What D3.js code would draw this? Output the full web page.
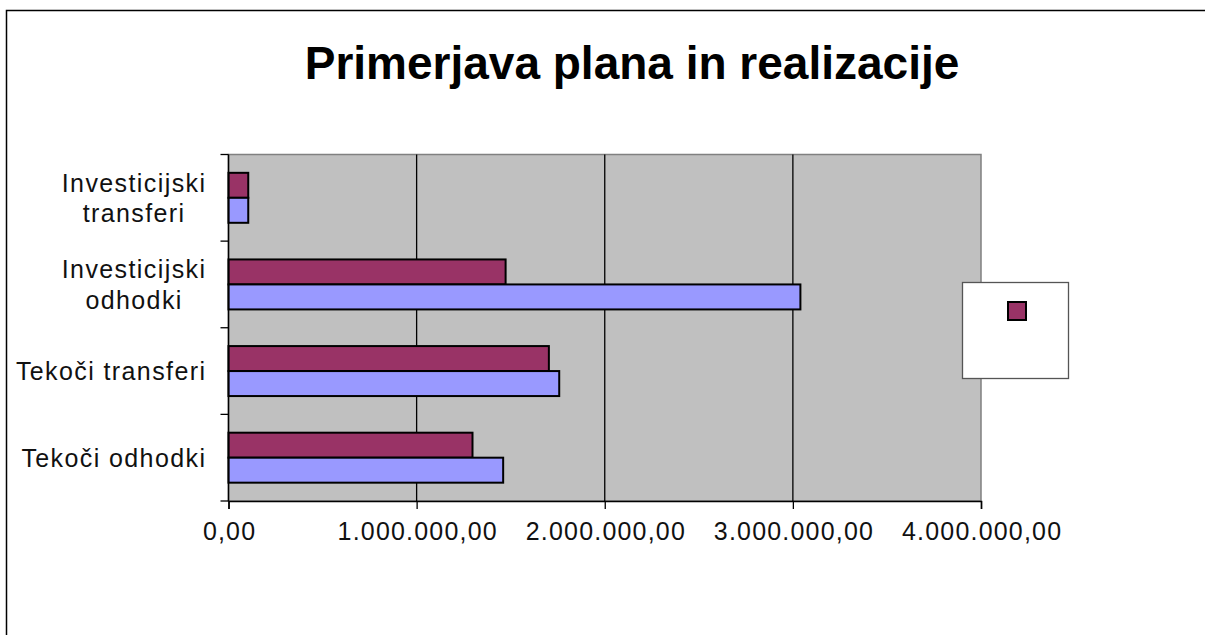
<!DOCTYPE html>
<html>
<head>
<meta charset="utf-8">
<script src="https://cdn.jsdelivr.net/npm/d3@7"></script>
<style>
  body { margin: 0; background: #fff; }
  svg { display: block; font-family: "Liberation Sans", Arial, sans-serif; }
</style>
</head>
<body>
<script>
// chart data
var categories = ['Investicijski transferi', 'Investicijski odhodki', 'Tekoči transferi', 'Tekoči odhodki'];
var categoryLines = [['Investicijski', 'transferi'], ['Investicijski', 'odhodki'], ['Tekoči transferi'], ['Tekoči odhodki']];
var seriesNames = ['Realizacija', 'Plan'];
var realizacija = [105000, 1473000, 1703000, 1297000];
var plan = [105000, 3040000, 1758000, 1460000];
var xTicks = [0, 1000000, 2000000, 3000000, 4000000];
var seriesColors = ['#993366', '#9999ff'];

var width = 1205, height = 635;
var plot = {left: 228.5, top: 154.5, right: 981, bottom: 501};

var locale = d3.formatLocale({decimal: ',', thousands: '.', grouping: [3], currency: ['', '']});
var fmt = locale.format(',.2f');

var svg = d3.select('body').append('svg').attr('width', width).attr('height', height);

// outer chart border (runs off the right and bottom edge)
svg.append('rect').attr('x', 6.5).attr('y', 10.5).attr('width', 1300).attr('height', 700)
	.attr('fill', 'white').attr('stroke', 'black').attr('stroke-width', 1.5);

svg.append('text').attr('x', 632).attr('y', 79)
	.attr('text-anchor', 'middle').attr('font-size', 46).attr('font-weight', 'bold')
	.text('Primerjava plana in realizacije');

var xScale = d3.scaleLinear().domain([0, 4000000]).range([plot.left, plot.right]);
var yScale = d3.scaleBand().domain(categories).range([plot.top, plot.bottom]).paddingInner(0.423).paddingOuter(0.2115);
var sScale = d3.scaleBand().domain(seriesNames).range([0, yScale.bandwidth()]);

// plot area
svg.append('rect').attr('x', plot.left).attr('y', plot.top)
	.attr('width', plot.right - plot.left).attr('height', plot.bottom - plot.top)
	.attr('fill', '#c0c0c0').attr('stroke', '#808080').attr('stroke-width', 1.5);

svg.append('g').selectAll('line').data(xTicks.slice(1, -1)).enter()
	.append('line')
	.attr('x1', function(d){return xScale(d);}).attr('x2', function(d){return xScale(d);})
	.attr('y1', plot.top).attr('y2', plot.bottom)
	.attr('stroke', 'black').attr('stroke-width', 1.3);

// bars
var rows = categories.map(function(c, i){return {cat: c, values: [realizacija[i], plan[i]]};});
var groups = svg.append('g').selectAll('g').data(rows).enter()
	.append('g').attr('transform', function(d){return 'translate(0,' + yScale(d.cat) + ')';});
groups.selectAll('rect').data(function(d){return d.values.map(function(v, j){return {name: seriesNames[j], value: v, color: seriesColors[j]};});})
	.enter().append('rect')
	.attr('x', xScale(0))
	.attr('y', function(d){return sScale(d.name);})
	.attr('width', function(d){return xScale(d.value) - xScale(0);})
	.attr('height', sScale.bandwidth())
	.attr('fill', function(d){return d.color;})
	.attr('stroke', 'black').attr('stroke-width', 2);

// x axis
var xAxis = d3.axisBottom(xScale).tickValues(xTicks).tickSize(8).tickPadding(13).tickFormat(fmt);
var xAxisG = svg.append('g').attr('transform', 'translate(0,' + plot.bottom + ')').call(xAxis);
xAxisG.select('.domain').attr('stroke', 'black').attr('stroke-width', 1.5);
xAxisG.selectAll('.tick line').attr('stroke', 'black').attr('stroke-width', 1.3);
xAxisG.selectAll('text').attr('font-size', 25).attr('fill', '#111')
	.attr('letter-spacing', 1.2).attr('dx', 0.6)
	.attr('font-family', '"Liberation Sans", Arial, sans-serif');

// y axis (ticks on band edges)
var step = yScale.step();
var edges = d3.range(categories.length + 1).map(function(i){return plot.top + i * step;});
svg.append('line').attr('x1', plot.left).attr('x2', plot.left).attr('y1', plot.top).attr('y2', plot.bottom)
	.attr('stroke', 'black').attr('stroke-width', 1.5);
svg.append('g').selectAll('line').data(edges).enter()
	.append('line').attr('x1', plot.left - 8).attr('x2', plot.left)
	.attr('y1', function(d){return d;}).attr('y2', function(d){return d;})
	.attr('stroke', 'black').attr('stroke-width', 1.3);

var labels = svg.append('g').selectAll('text').data(categories).enter()
	.append('text').attr('font-size', 25).attr('fill', '#111')
	.attr('letter-spacing', 1.4).attr('text-anchor', 'middle');
labels.each(function(c, i){
	var t = d3.select(this);
	var lines = categoryLines[i];
	var cy = yScale(c) + yScale.bandwidth() / 2;
	var y0 = cy + 9 - (lines.length - 1) * 15.2;
	lines.forEach(function(l, k){
		t.append('tspan').attr('y', y0 + k * 30.4).text(l);
	});
	var maxW = 0;
	t.selectAll('tspan').each(function(){maxW = Math.max(maxW, this.getComputedTextLength());});
	t.selectAll('tspan').attr('x', 206.4 - maxW / 2);
});

// legend
svg.append('rect').attr('x', 962.5).attr('y', 282.5).attr('width', 106).attr('height', 96)
	.attr('fill', 'white').attr('stroke', '#555').attr('stroke-width', 1.3);
svg.append('rect').attr('x', 1008).attr('y', 302).attr('width', 18).attr('height', 18)
	.attr('fill', seriesColors[0]).attr('stroke', 'black').attr('stroke-width', 2);
</script>
</body>
</html>
